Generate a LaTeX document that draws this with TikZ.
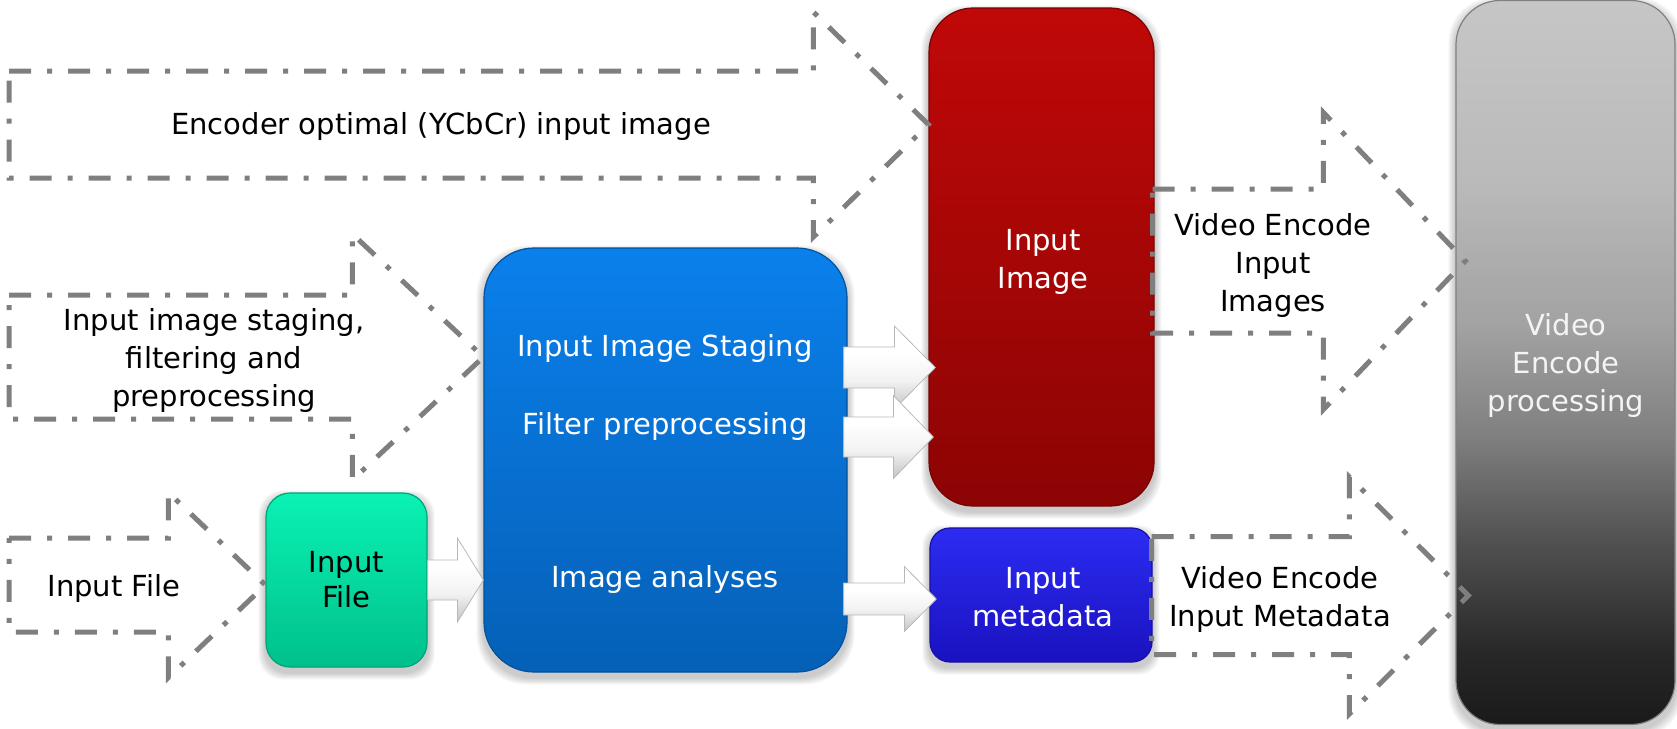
\documentclass[tikz,border=0pt]{standalone}
\usepackage{fontspec}
\setmainfont{DejaVu Sans}
\usetikzlibrary{calc}

% palette
\definecolor{dashgray}{HTML}{7F7F7F}
\definecolor{fileTop}{HTML}{0AF2B4}
\definecolor{fileBot}{HTML}{00C08A}
\definecolor{stageTop}{HTML}{0A80EC}
\definecolor{stageBot}{HTML}{0560B6}
\definecolor{imgTop}{HTML}{C00808}
\definecolor{imgBot}{HTML}{8C0404}
\definecolor{metaTop}{HTML}{2C2CF2}
\definecolor{metaBot}{HTML}{1A12C0}
\definecolor{proctext}{HTML}{F4F4F4}
\definecolor{pg0}{HTML}{1A1A1A}
\definecolor{pg1}{HTML}{282828}
\definecolor{pg2}{HTML}{505050}
\definecolor{pg3}{HTML}{808080}
\definecolor{pg4}{HTML}{A2A2A2}
\definecolor{pg5}{HTML}{BABABA}
\definecolor{pg6}{HTML}{C6C6C6}
\definecolor{wTop}{HTML}{FFFFFF}
\definecolor{wMid}{HTML}{F2F2F2}
\definecolor{wBot}{HTML}{C4C4C4}
\definecolor{wEdge}{HTML}{B8B8B8}

\pgfdeclareverticalshading{procshade}{100bp}{color(0bp)=(pg0); color(25bp)=(pg0); color(30bp)=(pg1); color(37.5bp)=(pg2); color(45bp)=(pg3); color(52.5bp)=(pg4); color(62.5bp)=(pg5); color(75bp)=(pg6); color(100bp)=(pg6)}
\pgfdeclareverticalshading{whiteshade}{100bp}{color(0bp)=(wBot); color(25bp)=(wBot); color(42bp)=(wMid); color(58bp)=(wTop); color(100bp)=(wTop)}

\pgfdeclarelayer{shadowlayer}
\pgfsetlayers{shadowlayer,main}

\newcommand\lblfont{\fontsize{29pt}{38pt}\selectfont}

% block arrow: style, start (left edge centre), tip, body half height, head half height, head length
\newcommand\fatarrow[6]{%
  \path[#1] let \p1=(#2), \p2=(#3) in
    (\x1,\y1+#4) -- (\x2-#6,\y1+#4) -- (\x2-#6,\y1+#5) -- (\x2,\y2)
    -- (\x2-#6,\y1-#5) -- (\x2-#6,\y1-#4) -- (\x1,\y1-#4) -- cycle;}

% soft shadow under a named box
\newcommand\softshade[2]{%
  \foreach \k in {1,...,7}{%
    \fill[black, opacity=0.03, rounded corners=#2]
      ($(#1.north west)+(-\k,-\k+5)$) rectangle ($(#1.south east)+(\k,\k+5)$);}}

% text nodes are placed by the centre of their last line
\tikzset{
  lbl/.style={font=\lblfont, align=center, text height=21pt, text depth=3pt, inner sep=0pt},
  box/.style={inner sep=0pt, draw=#1, line width=1.2pt},
  dasharrow/.style={draw=dashgray, line width=5pt, dash pattern=on 22pt off 16pt on 5pt off 16pt, line join=miter},
  whitearrow/.style={shade, shading=whiteshade, draw=wEdge, line width=0.8pt, line join=miter},
}

\begin{document}
\begin{tikzpicture}[x=1pt, y=-1pt]
\useasboundingbox (0,0) rectangle (1677,728);

% boxes
\node[box=fileBot!85!black, rounded corners=24pt, top color=fileTop, bottom color=fileBot,
      minimum width=161pt, minimum height=174pt] (inputfile) at (346.5,580) {};
\node[box=stageBot!85!black, rounded corners=50pt, top color=stageTop, bottom color=stageBot,
      minimum width=363pt, minimum height=424pt] (stage) at (665.5,460) {};
\node[box=imgBot!85!black, rounded corners=44pt, top color=imgTop, bottom color=imgBot,
      minimum width=225pt, minimum height=498pt] (img) at (1041.5,257) {};
\node[box=metaBot!85!black, rounded corners=20pt, top color=metaTop, bottom color=metaBot,
      minimum width=222pt, minimum height=134pt] (meta) at (1041,595) {};
\node[box=pg3, rounded corners=44pt, shading=procshade,
      minimum width=219pt, minimum height=724pt] (proc) at (1565.5,362.5) {};

\begin{pgfonlayer}{shadowlayer}
  \softshade{inputfile}{24pt}
  \softshade{stage}{50pt}
  \softshade{img}{44pt}
  \softshade{meta}{20pt}
  \softshade{proc}{44pt}
\end{pgfonlayer}

% texts inside the boxes
\node[lbl, font=\fontsize{29pt}{35pt}\selectfont] (filetxt) at (346.5,598) {Input\\File};
\node[lbl, text=white] (stagetxt) at (665,347) {Input Image Staging};
\node[lbl, text=white] (filtertxt) at (665,425) {Filter preprocessing};
\node[lbl, text=white] (analysetxt) at (665,578) {Image analyses};
\node[lbl, text=white] (imgtxt) at (1043,279) {Input\\Image};
\node[lbl, text=white] (metatxt) at (1043,617) {Input\\metadata};
\node[lbl, text=proctext] (proctxt) at (1566,402) {Video\\Encode\\processing};

% white connectors between boxes
\coordinate (w1) at (inputfile.east |- 0,580);
\coordinate (w2) at ($(stage.east |- 0,367.5)+(-4,0)$);
\coordinate (w3) at ($(stage.east |- 0,437)+(-4,0)$);
\coordinate (w4) at ($(stage.east |- 0,599)+(-4,0)$);
\fatarrow{whitearrow}{w1}{stage.west |- w1}{20pt}{42pt}{26pt}
\fatarrow{whitearrow}{w2}{$(img.west |- w2)+(7,0)$}{20.5pt}{41.5pt}{41pt}
\fatarrow{whitearrow}{w3}{$(img.west |- w3)+(5,0)$}{20pt}{41.5pt}{40pt}
\fatarrow{whitearrow}{w4}{$(meta.west |- w4)+(7,0)$}{16pt}{32.5pt}{32pt}

% dashed block arrows
\coordinate (a1) at (9,124.5);
\coordinate (a2) at (9,357);
\coordinate (a3) at (9,585);
\coordinate (a4) at ($(img.east |- 0,261)+(-2,0)$);
\coordinate (a5) at ($(meta.east |- 0,595.5)+(-1,0)$);
\fatarrow{dasharrow}{a1}{img.west |- a1}{53.5pt}{112.5pt}{115pt}
\fatarrow{dasharrow}{a2}{stage.west |- a2}{62pt}{123pt}{131pt}
\fatarrow{dasharrow}{a3}{inputfile.west |- a3}{47pt}{92.5pt}{97pt}
\fatarrow{dasharrow}{a4}{$(proc.west |- a4)+(10,0)$}{72pt}{148.5pt}{142pt}
\fatarrow{dasharrow}{a5}{$(proc.west |- a5)+(13,0)$}{59pt}{118.5pt}{119pt}

% labels of the dashed arrows
\node[lbl] (enclbl) at (441,125) {Encoder optimal (YCbCr) input image};
\node[lbl] (staglbl) at (214,397) {Input image staging,\\filtering and\\preprocessing};
\node[lbl] (filelbl) at (114,587) {Input File};
\node[lbl] (venclbl) at (1273,302) {Video Encode\\Input\\Images};
\node[lbl] (vmetalbl) at (1280,617) {Video Encode\\Input Metadata};
\end{tikzpicture}
\end{document}
